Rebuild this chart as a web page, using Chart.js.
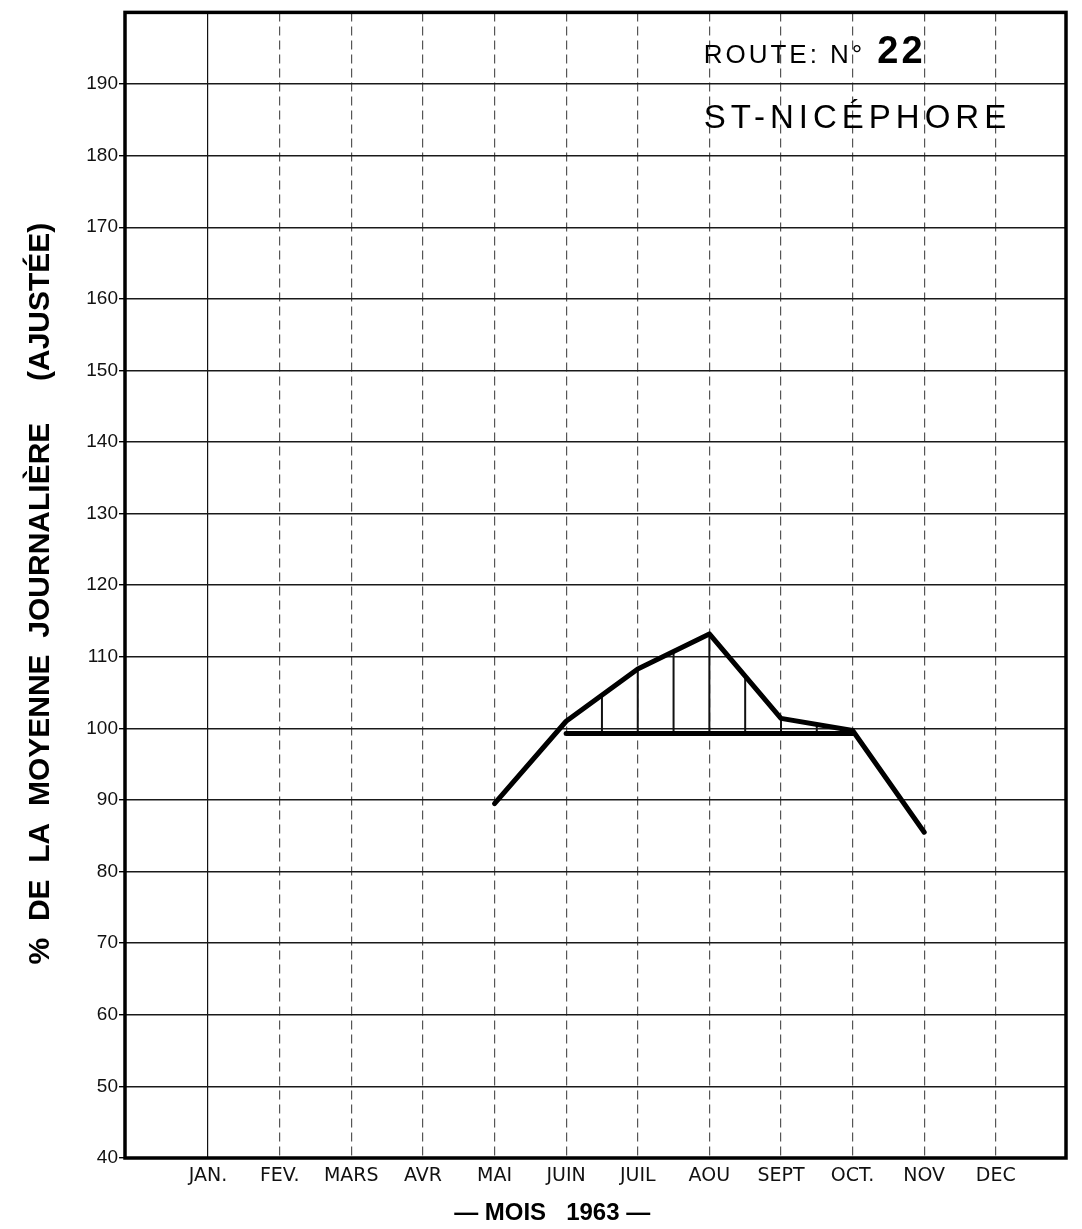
<!DOCTYPE html>
<html lang="fr">
<head>
<meta charset="UTF-8">
<title>Route 22 - St-Nicéphore</title>
<script src="https://cdn.jsdelivr.net/npm/chart.js"></script>
<style>
  html, body { margin: 0; padding: 0; background: #fff; }
  #chart { display: block; }
</style>
</head>
<body>
<canvas id="chart" width="1082" height="1229"></canvas>
<script>
// --- data ---
const monthLabels = ['JAN.', 'FEV.', 'MARS', 'AVR', 'MAI', 'JUIN', 'JUIL', 'AOU', 'SEPT', 'OCT.', 'NOV', 'DEC'];
const trafficMonths = ['MAI', 'JUIN', 'JUIL', 'AOU', 'SEPT', 'OCT.', 'NOV'];
const trafficValues = [89.5, 101, 108.3, 113.2, 101.4, 99.7, 85.5];
const averageMonths = ['JUIN', 'OCT.'];
const averageValues = [99.3, 99.3];
const hatchPositions = [6.5, 7, 7.5, 8, 8.5, 9, 9.5]; // month index (JAN = 1)
const yTickValues = [40, 50, 60, 70, 80, 90, 100, 110, 120, 130, 140, 150, 160, 170, 180, 190];

const monthPos = m => monthLabels.indexOf(m) + 1;
const trafficPoints = trafficMonths.map((m, i) => ({x: monthPos(m), y: trafficValues[i]}));
const averagePoints = averageMonths.map((m, i) => ({x: monthPos(m), y: averageValues[i]}));

function interp(points, x) {
    for (let i = 0; i < points.length - 1; i++) {
        const a = points[i], b = points[i + 1];
        if (x >= a.x && x <= b.x) {
            return a.y + (b.y - a.y) * (x - a.x) / (b.x - a.x);
        }
    }
    return null;
}

// vertical hatching between the monthly curve and the average line
const hatchPlugin = {
    id: 'hatchPlugin',
    beforeDatasetsDraw(chart) {
        const {ctx, scales: {x, y}} = chart;
        ctx.save();
        ctx.strokeStyle = '#111';
        ctx.lineWidth = 2;
        hatchPositions.forEach(h => {
            const top = interp(trafficPoints, h);
            const bottom = interp(averagePoints, h);
            if (top === null || bottom === null) return;
            const px = x.getPixelForValue(h);
            ctx.beginPath();
            ctx.moveTo(px, y.getPixelForValue(bottom));
            ctx.lineTo(px, y.getPixelForValue(top));
            ctx.stroke();
        });
        ctx.restore();
    }
};

// heavy frame + station caption
const framePlugin = {
    id: 'framePlugin',
    afterDraw(chart) {
        const {ctx, chartArea: a, scales: {x, y}} = chart;
        ctx.save();
        ctx.strokeStyle = '#000';
        ctx.lineWidth = 3.5;
        ctx.strokeRect(a.left, a.top, a.right - a.left, a.bottom - a.top);

        ctx.fillStyle = '#000';
        ctx.textBaseline = 'alphabetic';
        ctx.textAlign = 'left';
        const tx = x.getPixelForValue(7.92);
        ctx.letterSpacing = '3px';
        ctx.font = '26px "Liberation Sans"';
        ctx.fillText('ROUTE: N°', tx, y.getPixelForValue(193.0));
        const w = ctx.measureText('ROUTE: N°').width;
        ctx.letterSpacing = '3px';
        ctx.font = 'bold 38px "Liberation Sans"';
        ctx.fillText('22', tx + w + 12, y.getPixelForValue(193.0));
        ctx.letterSpacing = '5px';
        ctx.font = '33px "Liberation Sans"';
        ctx.fillText('ST-NICÉPHORE', tx, y.getPixelForValue(183.8));
        ctx.restore();
    }
};

const config = {
    type: 'line',
    data: {
        datasets: [
            {
                label: 'Moyenne mensuelle',
                data: trafficPoints,
                borderColor: '#000',
                borderWidth: 5,
                borderJoinStyle: 'round',
                borderCapStyle: 'round',
                pointRadius: 0,
                tension: 0
            },
            {
                label: 'Moyenne',
                data: averagePoints,
                borderColor: '#000',
                borderWidth: 5,
                borderCapStyle: 'round',
                pointRadius: 0,
                tension: 0
            }
        ]
    },
    options: {
        responsive: false,
        animation: false,
        layout: { padding: { top: 5, right: 16, bottom: 0, left: 0 } },
        plugins: {
            legend: { display: false },
            tooltip: { enabled: false }
        },
        scales: {
            x: {
                type: 'linear',
                min: -0.16,
                max: 12.98,
                afterBuildTicks(scale) {
                    scale.ticks = monthLabels.map((m, i) => ({value: i + 1}));
                },
                afterFit(scale) { scale.height = 71; },
                ticks: {
                    autoSkip: false,
                    maxRotation: 0,
                    padding: 7,
                    color: '#111',
                    font: { family: '"DejaVu Sans"', size: 19 },
                    callback: v => monthLabels[v - 1] || ''
                },
                grid: {
                    color: ctx => ctx.tick && ctx.tick.value === 1 ? '#111' : '#555',
                    lineWidth: 1.2,
                    drawTicks: false
                },
                border: {
                    display: false,
                    dash: ctx => ctx.tick && ctx.tick.value === 1 ? [] : [9, 5]
                },
                title: {
                    display: true,
                    text: '— MOIS   1963 —             ',
                    color: '#000',
                    font: { family: '"Liberation Sans"', size: 24, weight: 'bold' },
                    padding: { top: 0, bottom: 1 }
                }
            },
            y: {
                type: 'linear',
                min: 40,
                max: 200,
                afterBuildTicks(scale) {
                    scale.ticks = yTickValues.map(v => ({value: v}));
                },
                afterFit(scale) { scale.width = 125; },
                ticks: {
                    padding: 1,
                    color: '#111',
                    font: { family: '"Liberation Sans"', size: 19 }
                },
                grid: {
                    color: '#1a1a1a',
                    lineWidth: 1.4,
                    tickLength: 6,
                    tickColor: '#000'
                },
                border: { display: false },
                title: {
                    display: true,
                    text: '%  DE  LA  MOYENNE  JOURNALIÈRE     (AJUSTÉE)  ',
                    color: '#000',
                    font: { family: '"Liberation Sans"', size: 30, weight: 'bold' },
                    padding: { top: 23, bottom: 0 }
                }
            }
        }
    },
    plugins: [hatchPlugin, framePlugin]
};

new Chart(document.getElementById('chart').getContext('2d'), config);
</script>
</body>
</html>
